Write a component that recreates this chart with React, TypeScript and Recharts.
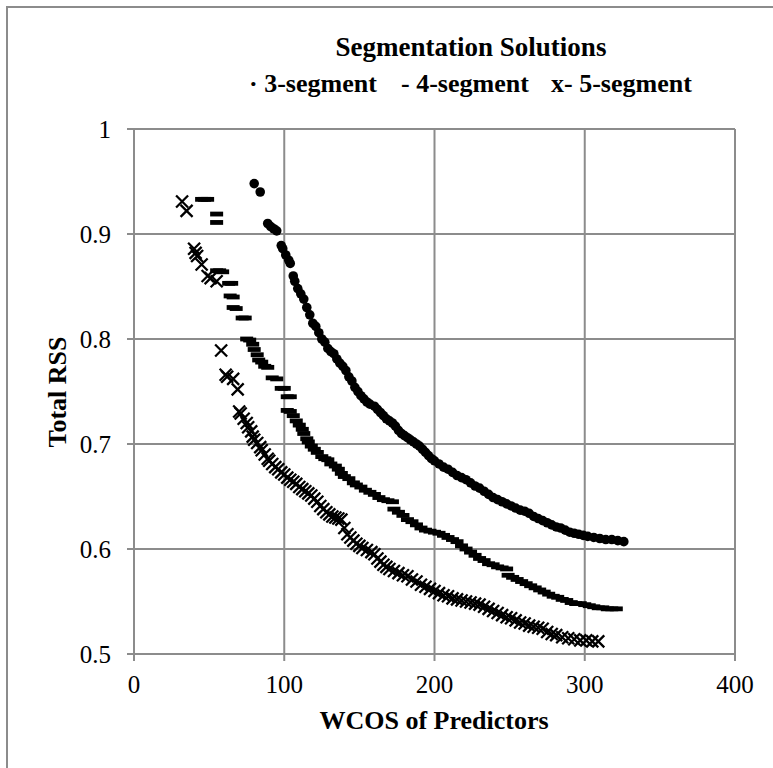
import { CartesianGrid, Scatter, ScatterChart, XAxis, YAxis } from 'recharts';

// values: [WCOS, total RSS]
const seg3: [number, number][] = [
  [80, 0.948], [84, 0.94], [89, 0.91], [91, 0.907], [93, 0.905], [95, 0.903], [98, 0.889], [99, 0.886],
  [101, 0.88], [103, 0.875], [104, 0.872], [106, 0.86], [107, 0.855], [109, 0.848], [111, 0.843], [113, 0.838],
  [115, 0.83], [117, 0.823], [119, 0.815], [121, 0.812], [123, 0.806], [125, 0.8], [127, 0.797], [129, 0.791],
  [131, 0.788], [133, 0.786], [135, 0.781], [137, 0.777], [139, 0.774], [141, 0.77], [143, 0.764], [145, 0.76],
  [147, 0.754], [149, 0.75], [151, 0.746], [153, 0.743], [155, 0.74], [157, 0.738], [160, 0.736], [162, 0.733],
  [164, 0.73], [166, 0.727], [168, 0.724], [170, 0.722], [172, 0.72], [174, 0.717], [176, 0.713], [178, 0.71],
  [180, 0.708], [182, 0.706], [184, 0.704], [186, 0.702], [188, 0.7], [190, 0.698], [192, 0.695], [194, 0.692],
  [196, 0.689], [198, 0.686], [200, 0.684], [203, 0.681], [206, 0.678], [209, 0.676], [212, 0.673], [215, 0.67],
  [218, 0.668], [221, 0.666], [224, 0.663], [227, 0.66], [230, 0.658], [233, 0.655], [236, 0.652], [239, 0.649],
  [242, 0.647], [245, 0.645], [248, 0.643], [251, 0.641], [254, 0.639], [257, 0.637], [260, 0.636], [263, 0.634],
  [266, 0.631], [269, 0.629], [272, 0.627], [275, 0.625], [278, 0.623], [281, 0.621], [284, 0.62], [287, 0.618],
  [290, 0.616], [293, 0.615], [296, 0.614], [299, 0.613], [302, 0.612], [306, 0.611], [310, 0.61], [314, 0.609],
  [318, 0.609], [322, 0.608], [326, 0.607],
];

const seg4: [number, number][] = [
  [45, 0.933], [47, 0.933], [49, 0.933], [55, 0.919], [55, 0.911], [55, 0.865], [57, 0.865], [59, 0.864],
  [63, 0.853], [65, 0.853], [64, 0.841], [66, 0.84], [66, 0.83], [68, 0.829], [72, 0.82], [74, 0.82],
  [75, 0.8], [77, 0.799], [79, 0.795], [80, 0.79], [82, 0.785], [83, 0.78], [85, 0.778], [87, 0.774],
  [89, 0.773], [92, 0.763], [95, 0.762], [98, 0.753], [100, 0.753], [102, 0.745], [104, 0.745], [102, 0.732],
  [104, 0.731], [106, 0.727], [108, 0.722], [110, 0.718], [112, 0.714], [113, 0.71], [115, 0.705], [116, 0.702],
  [118, 0.698], [120, 0.695], [122, 0.692], [125, 0.688], [127, 0.686], [129, 0.685], [131, 0.681], [134, 0.679],
  [136, 0.676], [138, 0.672], [140, 0.669], [143, 0.667], [146, 0.663], [148, 0.661], [151, 0.659], [154, 0.656],
  [157, 0.654], [160, 0.652], [163, 0.649], [166, 0.647], [169, 0.646], [172, 0.645], [173, 0.638], [176, 0.635],
  [179, 0.632], [182, 0.628], [185, 0.626], [188, 0.623], [191, 0.62], [194, 0.618], [197, 0.617], [200, 0.616],
  [203, 0.615], [206, 0.613], [209, 0.611], [212, 0.609], [215, 0.607], [218, 0.603], [221, 0.6], [224, 0.597],
  [227, 0.594], [230, 0.591], [233, 0.589], [236, 0.586], [239, 0.585], [242, 0.583], [245, 0.582], [248, 0.581],
  [249, 0.575], [252, 0.573], [255, 0.571], [258, 0.569], [261, 0.567], [264, 0.565], [267, 0.563], [270, 0.561],
  [273, 0.559], [276, 0.557], [279, 0.555], [282, 0.554], [285, 0.552], [288, 0.551], [291, 0.549], [294, 0.548],
  [297, 0.548], [300, 0.547], [303, 0.546], [306, 0.545], [309, 0.544], [312, 0.544], [315, 0.543], [318, 0.543],
  [321, 0.543],
];

const seg5: [number, number][] = [
  [32, 0.931], [35, 0.922], [40, 0.886], [41, 0.882], [42, 0.879], [45, 0.871], [49, 0.86], [51, 0.858],
  [55, 0.855], [58, 0.789], [61, 0.766], [62, 0.764], [66, 0.762], [69, 0.752], [70, 0.731], [71, 0.729],
  [73, 0.724], [75, 0.72], [76, 0.716], [78, 0.712], [79, 0.707], [80, 0.704], [82, 0.701], [84, 0.697],
  [85, 0.694], [87, 0.69], [89, 0.686], [90, 0.684], [92, 0.681], [94, 0.678], [96, 0.676], [98, 0.673],
  [100, 0.671], [102, 0.668], [104, 0.666], [106, 0.664], [108, 0.662], [110, 0.659], [112, 0.657], [114, 0.655],
  [116, 0.653], [118, 0.651], [120, 0.648], [122, 0.645], [124, 0.641], [126, 0.638], [128, 0.635], [130, 0.633],
  [132, 0.631], [134, 0.63], [136, 0.629], [138, 0.628], [140, 0.62], [142, 0.614], [144, 0.611], [146, 0.608],
  [148, 0.605], [150, 0.603], [152, 0.601], [155, 0.599], [158, 0.597], [160, 0.595], [162, 0.591], [164, 0.588],
  [166, 0.585], [168, 0.583], [170, 0.581], [173, 0.579], [176, 0.577], [179, 0.575], [182, 0.574], [185, 0.571],
  [188, 0.569], [191, 0.566], [194, 0.564], [197, 0.562], [200, 0.56], [203, 0.558], [206, 0.556], [209, 0.555],
  [212, 0.553], [215, 0.552], [218, 0.551], [221, 0.55], [224, 0.549], [227, 0.548], [230, 0.547], [233, 0.545],
  [236, 0.543], [239, 0.541], [242, 0.539], [245, 0.537], [248, 0.535], [251, 0.534], [254, 0.532], [257, 0.53],
  [260, 0.529], [263, 0.527], [266, 0.526], [269, 0.525], [272, 0.524], [275, 0.521], [278, 0.519], [281, 0.518],
  [285, 0.516], [289, 0.515], [293, 0.514], [297, 0.513], [301, 0.513], [305, 0.512], [309, 0.512],
];

const xTicks = [0, 100, 200, 300, 400];
const yTicks = [0.5, 0.6, 0.7, 0.8, 0.9, 1];

const toPoints = (rows: [number, number][]) => rows.map(([x, y]) => ({ x, y }));

const GRID = '#8c8c8c';
const SERIF = 'Liberation Serif';

const Dot = ({ cx, cy }: any) => <circle cx={cx} cy={cy} r={4.8} fill="#000" />;
const Dash = ({ cx, cy }: any) => <rect x={cx - 6.5} y={cy - 2.4} width={13} height={4.8} fill="#000" />;
const Cross = ({ cx, cy }: any) => (
  <path d={`M${cx - 6},${cy - 6}L${cx + 6},${cy + 6}M${cx - 6},${cy + 6}L${cx + 6},${cy - 6}`} stroke="#000" strokeWidth={2.3} />
);

export default function App() {
  const tick = { fill: '#000', fontSize: 25, style: { fontFamily: SERIF } };
  const txt = { fontFamily: SERIF, fontWeight: 700 } as const;
  return (
    <div style={{ position: 'absolute', left: 0, top: 0, width: 773, height: 768, background: '#fff', fontFamily: SERIF }}>
      <div
        style={{
          position: 'absolute', left: 6, top: 6, width: 767, height: 762,
          borderTop: `2px solid ${GRID}`, borderLeft: `2px solid ${GRID}`, boxSizing: 'border-box',
        }}
      />
      <ScatterChart width={773} height={768} margin={{ top: 129, right: 38, bottom: 0, left: 0 }} style={{ position: 'absolute', left: 0, top: 0 }}>
        <CartesianGrid stroke={GRID} strokeWidth={2} />
        <XAxis
          type="number" dataKey="x" domain={[0, 400]} ticks={xTicks} interval={0} height={114}
          tick={tick} tickSize={7} tickMargin={14} stroke={GRID} strokeWidth={2}
        />
        <YAxis
          type="number" dataKey="y" domain={[0.5, 1]} ticks={yTicks} interval={0} width={134}
          tick={tick} tickSize={7} tickMargin={16} stroke={GRID} strokeWidth={2}
          tickFormatter={(v: number) => String(v)}
        />
        <Scatter name="3-segment" data={toPoints(seg3)} shape={Dot} isAnimationActive={false} />
        <Scatter name="4-segment" data={toPoints(seg4)} shape={Dash} isAnimationActive={false} />
        <Scatter name="5-segment" data={toPoints(seg5)} shape={Cross} isAnimationActive={false} />
      </ScatterChart>
      <svg width={773} height={768} style={{ position: 'absolute', left: 0, top: 0, pointerEvents: 'none' }}>
        <g fill="#000">
          <text x={471} y={56} fontSize={27} textAnchor="middle" style={txt}>Segmentation Solutions</text>
          <text x={249} y={92} fontSize={26} style={txt}>· 3-segment</text>
          <text x={401} y={92} fontSize={26} style={txt}>- 4-segment</text>
          <text x={551} y={92} fontSize={26} style={txt}>x- 5-segment</text>
          <text x={434} y={729} fontSize={26} textAnchor="middle" style={txt}>WCOS of Predictors</text>
          <text x={66} y={392} fontSize={26} textAnchor="middle" transform="rotate(-90 66 392)" style={txt}>Total RSS</text>
        </g>
      </svg>
    </div>
  );
}
